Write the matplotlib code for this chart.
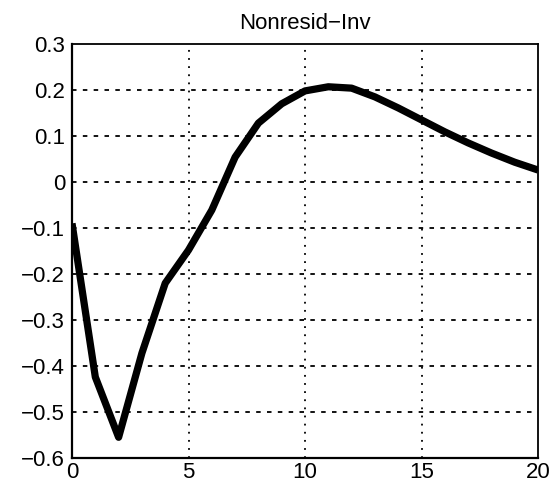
import matplotlib
matplotlib.use("Agg")
import matplotlib.pyplot as plt
import numpy as np

# ── Impulse response: nonresidential investment ─────────────
horizon  = list(range(21))
response = [-0.09, -0.424, -0.555, -0.372, -0.22, -0.148, -0.061, 0.054,
            0.128, 0.170, 0.198, 0.207, 0.204, 0.185, 0.161, 0.135,
            0.109, 0.085, 0.063, 0.043, 0.026]

x_ticks = [0, 5, 10, 15, 20]
y_ticks = [-0.6, -0.5, -0.4, -0.3, -0.2, -0.1, 0, 0.1, 0.2, 0.3]
y_labels = ["\u22120.6", "\u22120.5", "\u22120.4", "\u22120.3", "\u22120.2",
            "\u22120.1", "0", "0.1", "0.2", "0.3"]

plt.rcParams['font.family'] = ['Liberation Sans', 'DejaVu Sans']

fig = plt.figure(figsize=(5.57, 4.86), dpi=100)
ax = fig.add_axes([0.1293, 0.0576, 0.8366, 0.8519])

ax.plot(horizon, response, color='black', lw=5.2,
        solid_joinstyle='round', solid_capstyle='butt', zorder=3)

ax.set_xlim(0, 20)
ax.set_ylim(-0.6, 0.3)
ax.set_xticks(x_ticks)
ax.set_yticks(y_ticks)
ax.set_yticklabels(y_labels)

# dotted grid in the MATLAB style
for v in x_ticks[1:-1]:
    ax.axvline(v, color='black', lw=1.3, linestyle=(0, (1, 3.5)), zorder=1)
for v in y_ticks[1:-1]:
    ax.axhline(v, color='black', lw=1.3, linestyle=(0, (2.5, 3.5)), zorder=1)

ax.tick_params(axis='y', length=0, labelsize=16, pad=5, colors='black')
ax.tick_params(axis='x', length=0, labelsize=16, pad=3, colors='black')
for side in ['top', 'right']:
    ax.spines[side].set_linewidth(1.3)
for side in ['left', 'bottom']:
    ax.spines[side].set_linewidth(1.6)

ax.set_title("Nonresid\u2212Inv", fontsize=16, pad=11)

fig.savefig("out.png", dpi=100, facecolor='white')
